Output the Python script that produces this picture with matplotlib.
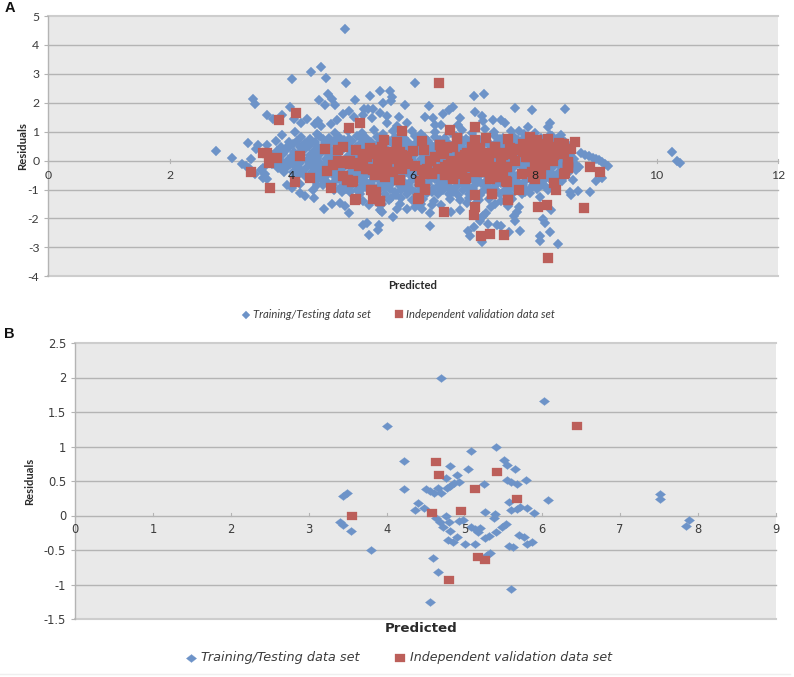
import matplotlib
matplotlib.use("Agg")
import matplotlib.pyplot as plt
from matplotlib.lines import Line2D

W, H = 794, 677
BLUE = "#6D93C8"
RED = "#BC5F5A"
BG = "#E9E9E9"
GRID = "#B4B4B4"
EDGE = "#CDCDCD"
TXT = "#3C3C3C"

# Panel A : training/testing, sparse points around the cloud
train_a_outer = [
(4.88,4.56),(4.49,3.25),(4.32,3.07),(4.56,2.85),(4.01,2.82),(4.90,2.67),(4.60,2.29),(4.45,2.09),(4.66,2.13),(4.55,1.93),
(4.71,1.91),(5.04,2.11),(5.28,2.24),(5.46,2.39),(5.61,2.41),(5.65,2.21),(5.63,2.06),(5.50,2.00),(3.37,2.13),(3.39,1.97),
(3.97,1.86),(3.59,1.56),(3.69,1.43),(3.84,1.56),(4.04,1.43),(4.15,1.31),(4.25,1.43),(4.44,1.38),(4.38,1.26),(4.49,1.20),
(4.65,1.28),(4.75,1.40),(4.85,1.61),(4.95,1.71),(5.03,1.52),(5.19,1.80),(5.26,1.80),(5.33,1.79),(5.18,1.57),(5.32,1.49),
(5.45,1.65),(5.56,1.54),(5.56,1.31),(5.76,1.52),(5.74,1.20),(3.28,0.61),(2.76,0.33),(3.02,0.09),(3.33,0.07),(3.45,0.54),
(3.41,0.40),(3.59,0.54),(3.74,0.67),(3.84,0.89),(3.19,-0.11),(3.25,-0.17),(3.30,-0.26),(3.39,-0.46),(3.53,-0.26),(3.50,-0.34),
(3.57,-0.46),(3.53,-0.61),(3.59,-0.64),(3.92,-0.86),(4.00,-0.95),(4.13,-0.82),(4.13,-1.13),(4.22,-1.22),(4.35,-1.03),(4.36,-1.30),
(4.54,-1.68),(4.41,-0.84),(4.67,-1.49),(4.79,-1.47),(4.87,-1.56),(4.95,-1.82),(5.18,-2.23),(5.24,-2.16),(5.27,-2.56),(5.42,-2.41),
(5.44,-2.23),(5.45,-1.72),(5.48,-1.76),(5.66,-1.95),(5.73,-1.67),(5.17,-1.41),(5.27,-1.53),(5.42,-1.47),(5.49,-1.49),(5.64,-1.30),
(4.83,-1.10),(4.96,-1.10),(6.02,2.67),(5.86,1.92),(6.25,1.90),(6.66,1.87),(6.59,1.75),(6.49,1.61),(6.20,1.52),(6.33,1.46),
(6.36,1.23),(6.45,1.23),(5.89,1.31),(6.99,2.24),(7.16,2.32),(7.01,1.69),(7.13,1.55),(7.14,1.38),(6.77,1.47),(6.74,1.23),
(7.31,1.39),(7.44,1.40),(7.51,1.31),(7.68,1.83),(7.95,1.75),(8.50,1.79),(8.25,1.29),(8.22,1.17),(7.88,1.15),(7.74,1.03),
(7.18,1.11),(8.43,0.89),(10.25,0.29),(10.34,-0.03),(10.38,-0.09),(8.76,0.26),(8.83,0.21),(8.89,0.15),(8.95,0.10),(9.00,0.06),
(9.05,0.01),(9.10,-0.05),(9.15,-0.10),(9.20,-0.17),(8.72,-0.21),(8.68,-0.34),(8.62,-0.67),(9.00,-0.69),(9.10,-0.61),(8.71,-1.05),
(8.60,-1.18),(8.57,-1.09),(8.91,-1.09),(8.08,-1.26),(8.27,-1.70),(8.14,-2.02),(8.17,-2.16),(8.25,-2.47),(8.09,-2.59),(8.09,-2.79),
(8.38,-2.89),(7.75,-2.43),(7.57,-2.48),(7.38,-2.23),(7.44,-2.25),(7.68,-2.10),(7.66,-1.93),(7.70,-1.78),(7.73,-1.59),(7.22,-2.20),
(7.13,-2.83),(6.90,-2.45),(6.93,-2.60),(6.99,-2.31),(7.10,-2.10),(7.15,-1.93),(7.19,-1.82),(7.12,-1.99),(6.27,-2.25),(6.27,-1.82),
(6.62,-1.76),(6.76,-1.70),(7.28,-1.59),(7.56,-1.56),(6.14,-1.68),(5.89,-1.68),(6.03,-1.61),(6.30,-1.53),
]

# Panel A : training/testing, the dense central cloud (estimated where points overlap)
train_a_core = [
(4.05,0.99),(4.42,0.93),(4.72,0.97),(4.92,1.02),(5.15,0.94),(5.35,1.05),(5.50,0.92),(5.66,1.01),(5.82,0.95),(5.98,1.04),(6.12,0.93),(6.35,1.00),(6.62,0.96),(6.80,1.06),(6.97,0.94),(7.33,0.98),(7.60,1.01),(7.82,0.93),(8.00,0.97),(8.25,0.90),
(4.15,0.82),(4.30,0.76),(4.45,0.84),(4.62,0.78),(4.78,0.82),(4.95,0.75),(5.08,0.85),(5.22,0.79),(5.40,0.83),(5.55,0.76),(5.70,0.81),(5.85,0.78),(6.02,0.84),(6.20,0.77),(6.36,0.82),(6.52,0.79),(6.70,0.85),(6.86,0.76),(7.00,0.82),(7.18,0.78),(7.35,0.84),(7.48,0.77),(7.65,0.83),(7.80,0.76),(7.95,0.82),(8.10,0.79),(8.28,0.85),(8.42,0.74),
(3.95,0.63),(4.08,0.68),(4.22,0.62),(4.38,0.66),(4.55,0.61),(4.70,0.67),(4.83,0.63),(5.00,0.68),(5.14,0.61),(5.30,0.66),(5.46,0.64),(5.60,0.69),(5.76,0.62),(5.92,0.66),(6.06,0.63),(6.24,0.68),(6.40,0.61),(6.56,0.66),(6.72,0.63),(6.90,0.68),(7.06,0.62),(7.22,0.66),(7.38,0.64),(7.52,0.68),(7.68,0.61),(7.84,0.66),(8.00,0.63),(8.16,0.67),(8.32,0.62),(8.50,0.66),
(3.82,0.48),(3.98,0.52),(4.13,0.46),(4.28,0.51),(4.44,0.47),(4.60,0.53),(4.74,0.48),(4.90,0.51),(5.05,0.46),(5.20,0.52),(5.36,0.49),(5.52,0.47),(5.68,0.53),(5.84,0.48),(6.00,0.51),(6.16,0.46),(6.30,0.52),(6.46,0.48),(6.62,0.51),(6.78,0.47),(6.94,0.52),(7.10,0.48),(7.26,0.51),(7.42,0.46),(7.58,0.53),(7.74,0.48),(7.90,0.51),(8.06,0.47),(8.22,0.52),(8.38,0.48),(8.54,0.50),
(3.76,0.34),(3.90,0.37),(4.04,0.31),(4.20,0.36),(4.36,0.33),(4.52,0.38),(4.66,0.32),(4.82,0.36),(4.98,0.34),(5.14,0.38),(5.28,0.31),(5.44,0.36),(5.60,0.33),(5.76,0.37),(5.92,0.32),(6.08,0.36),(6.24,0.34),(6.38,0.38),(6.54,0.32),(6.70,0.36),(6.86,0.33),(7.02,0.37),(7.18,0.31),(7.34,0.36),(7.50,0.34),(7.66,0.38),(7.82,0.33),(7.98,0.36),(8.14,0.32),(8.30,0.37),(8.46,0.34),(8.58,0.33),
(3.70,0.18),(3.86,0.22),(4.00,0.17),(4.16,0.21),(4.30,0.18),(4.46,0.23),(4.62,0.19),(4.76,0.22),(4.92,0.17),(5.08,0.21),(5.24,0.18),(5.38,0.23),(5.54,0.19),(5.70,0.21),(5.86,0.17),(6.02,0.22),(6.18,0.19),(6.34,0.23),(6.48,0.18),(6.64,0.21),(6.80,0.17),(6.96,0.22),(7.12,0.19),(7.28,0.21),(7.44,0.18),(7.60,0.23),(7.76,0.17),(7.92,0.21),(8.08,0.18),(8.24,0.22),(8.40,0.19),(8.56,0.21),
(3.62,0.04),(3.80,0.07),(3.94,0.02),(4.10,0.06),(4.26,0.03),(4.42,0.08),(4.56,0.04),(4.72,0.07),(4.88,0.02),(5.04,0.06),(5.18,0.04),(5.34,0.08),(5.50,0.03),(5.66,0.06),(5.82,0.02),(5.96,0.07),(6.12,0.04),(6.28,0.08),(6.44,0.03),(6.60,0.06),(6.74,0.02),(6.90,0.07),(7.06,0.04),(7.22,0.06),(7.38,0.03),(7.54,0.08),(7.70,0.02),(7.86,0.06),(8.02,0.04),(8.18,0.07),(8.34,0.03),(8.50,0.06),(8.64,0.04),
(3.68,-0.11),(3.84,-0.08),(3.98,-0.13),(4.14,-0.09),(4.30,-0.12),(4.46,-0.07),(4.60,-0.11),(4.76,-0.08),(4.92,-0.13),(5.08,-0.09),(5.24,-0.11),(5.38,-0.07),(5.54,-0.12),(5.70,-0.09),(5.86,-0.13),(6.02,-0.08),(6.16,-0.11),(6.32,-0.07),(6.48,-0.12),(6.64,-0.09),(6.80,-0.13),(6.96,-0.08),(7.12,-0.11),(7.26,-0.09),(7.42,-0.12),(7.58,-0.07),(7.74,-0.13),(7.90,-0.09),(8.06,-0.11),(8.22,-0.08),(8.38,-0.12),(8.54,-0.09),(8.66,-0.10),
(3.78,-0.26),(3.92,-0.23),(4.08,-0.28),(4.24,-0.24),(4.38,-0.27),(4.54,-0.22),(4.70,-0.26),(4.86,-0.23),(5.02,-0.28),(5.16,-0.24),(5.32,-0.26),(5.48,-0.22),(5.64,-0.27),(5.80,-0.24),(5.94,-0.28),(6.10,-0.23),(6.26,-0.26),(6.42,-0.22),(6.58,-0.27),(6.74,-0.24),(6.88,-0.28),(7.04,-0.23),(7.20,-0.26),(7.36,-0.24),(7.52,-0.27),(7.66,-0.22),(7.82,-0.28),(7.98,-0.24),(8.14,-0.26),(8.30,-0.23),(8.46,-0.27),(8.60,-0.24),
(3.88,-0.41),(4.02,-0.38),(4.18,-0.43),(4.34,-0.39),(4.50,-0.42),(4.66,-0.37),(4.80,-0.41),(4.96,-0.38),(5.12,-0.43),(5.28,-0.39),(5.44,-0.41),(5.58,-0.37),(5.74,-0.42),(5.90,-0.39),(6.06,-0.43),(6.22,-0.38),(6.36,-0.41),(6.52,-0.37),(6.68,-0.42),(6.84,-0.39),(7.00,-0.43),(7.14,-0.38),(7.30,-0.41),(7.46,-0.39),(7.62,-0.42),(7.78,-0.37),(7.94,-0.43),(8.08,-0.39),(8.24,-0.41),(8.40,-0.38),(8.54,-0.42),
(4.04,-0.56),(4.22,-0.53),(4.40,-0.58),(4.56,-0.54),(4.72,-0.57),(4.88,-0.52),(5.04,-0.56),(5.20,-0.53),(5.34,-0.58),(5.50,-0.54),(5.66,-0.56),(5.82,-0.52),(5.98,-0.57),(6.14,-0.54),(6.28,-0.58),(6.44,-0.53),(6.60,-0.56),(6.76,-0.52),(6.92,-0.57),(7.08,-0.54),(7.22,-0.58),(7.38,-0.53),(7.54,-0.56),(7.70,-0.54),(7.86,-0.57),(8.02,-0.52),(8.16,-0.58),(8.32,-0.54),(8.48,-0.56),
(4.38,-0.71),(4.54,-0.68),(4.70,-0.73),(4.86,-0.69),(5.02,-0.72),(5.16,-0.67),(5.32,-0.71),(5.48,-0.68),(5.64,-0.73),(5.80,-0.69),(5.96,-0.71),(6.10,-0.67),(6.26,-0.72),(6.42,-0.69),(6.58,-0.73),(6.74,-0.68),(6.90,-0.71),(7.04,-0.67),(7.20,-0.72),(7.36,-0.69),(7.52,-0.73),(7.68,-0.68),(7.84,-0.71),(8.00,-0.69),(8.14,-0.72),(8.30,-0.67),(8.44,-0.71),
(4.52,-0.86),(4.68,-0.83),(4.84,-0.88),(5.00,-0.84),(5.14,-0.87),(5.30,-0.82),(5.46,-0.86),(5.62,-0.83),(5.78,-0.88),(5.92,-0.84),(6.08,-0.86),(6.24,-0.82),(6.40,-0.87),(6.56,-0.84),(6.72,-0.88),(6.86,-0.83),(7.02,-0.86),(7.18,-0.84),(7.34,-0.87),(7.50,-0.82),(7.64,-0.88),(7.80,-0.84),(7.96,-0.86),(8.12,-0.83),(8.28,-0.87),
(4.70,-1.01),(4.90,-0.98),(5.08,-1.03),(5.26,-0.99),(5.44,-1.02),(5.62,-0.97),(5.80,-1.01),(5.96,-0.98),(6.14,-1.03),(6.32,-0.99),(6.48,-1.02),(6.66,-0.98),(6.82,-1.01),(6.98,-0.97),(7.16,-1.03),(7.34,-0.99),(7.50,-1.02),(7.68,-0.98),(7.86,-1.01),(8.04,-0.98),(8.22,-1.02),
(5.12,-1.17),(5.54,-1.14),(5.72,-1.19),(5.90,-1.14),(6.06,-1.18),(6.22,-1.13),(6.40,-1.17),(6.58,-1.14),(6.74,-1.19),(6.92,-1.14),(7.10,-1.18),(7.42,-1.14),(7.60,-1.19),(7.78,-1.16),(7.92,-1.13),
(5.60,-1.35),(5.80,-1.31),(5.98,-1.37),(6.16,-1.33),(6.34,-1.38),(6.60,-1.32),(6.76,-1.36),(6.92,-1.31),(7.08,-1.37),(7.24,-1.33),(7.44,-1.38),(7.62,-1.33),
(5.78,-1.50),(6.12,-1.49),(6.46,-1.52),(6.88,-1.48),(7.02,-1.50),(7.34,-1.49),
]

# Panel A : training/testing, further overlapping points that close the cloud
train_a_fill = [
(4.52,0.74),(4.86,0.72),(5.16,0.74),(5.48,0.71),(5.78,0.72),(6.10,0.74),(6.44,0.71),(6.78,0.73),(7.10,0.72),(7.42,0.74),(7.72,0.71),(8.04,0.72),(8.36,0.73),
(4.02,0.58),(4.30,0.56),(4.62,0.59),(4.92,0.57),(5.22,0.58),(5.52,0.56),(5.84,0.59),(6.14,0.57),(6.48,0.58),(6.80,0.56),(7.14,0.59),(7.46,0.57),(7.76,0.58),(8.08,0.56),(8.42,0.57),
(3.90,0.43),(4.20,0.41),(4.52,0.43),(4.82,0.42),(5.12,0.44),(5.44,0.41),(5.76,0.43),(6.08,0.42),(6.38,0.44),(6.70,0.41),(7.02,0.43),(7.34,0.42),(7.66,0.44),(7.98,0.41),(8.30,0.43),(8.52,0.41),
(3.82,0.27),(4.12,0.26),(4.44,0.28),(4.74,0.27),(5.00,0.26),(5.22,0.28),(5.52,0.26),(5.84,0.27),(6.16,0.28),(6.46,0.26),(6.78,0.27),(7.10,0.28),(7.42,0.26),(7.74,0.27),(8.06,0.28),(8.38,0.26),(8.60,0.28),
(3.78,0.12),(4.08,0.11),(4.38,0.13),(4.68,0.12),(5.00,0.11),(5.30,0.13),(5.62,0.12),(5.94,0.11),(6.26,0.13),(6.56,0.12),(6.88,0.11),(7.20,0.13),(7.52,0.12),(7.84,0.11),(8.16,0.13),(8.48,0.12),
(3.72,-0.03),(4.02,-0.04),(4.34,-0.02),(4.64,-0.03),(4.96,-0.04),(5.26,-0.02),(5.58,-0.03),(5.90,-0.04),(6.20,-0.02),(6.52,-0.03),(6.82,-0.04),(7.14,-0.02),(7.46,-0.03),(7.78,-0.04),(8.10,-0.02),(8.42,-0.03),
(3.76,-0.18),(4.06,-0.19),(4.38,-0.17),(4.68,-0.18),(5.00,-0.19),(5.30,-0.17),(5.62,-0.18),(5.94,-0.19),(6.24,-0.17),(6.56,-0.18),(6.86,-0.19),(7.18,-0.17),(7.50,-0.18),(7.82,-0.19),(8.14,-0.17),(8.46,-0.18),
(3.86,-0.33),(4.16,-0.34),(4.46,-0.32),(4.78,-0.33),(5.10,-0.34),(5.40,-0.32),(5.72,-0.33),(6.02,-0.34),(6.34,-0.32),(6.64,-0.33),(6.96,-0.34),(7.28,-0.32),(7.58,-0.33),(7.90,-0.34),(8.22,-0.32),(8.50,-0.33),
(4.12,-0.48),(4.42,-0.49),(4.72,-0.47),(5.04,-0.48),(5.36,-0.49),(5.66,-0.47),(5.98,-0.48),(6.30,-0.49),(6.60,-0.47),(6.92,-0.48),(7.22,-0.49),(7.54,-0.47),(7.86,-0.48),(8.16,-0.49),(8.44,-0.47),
(4.48,-0.63),(4.78,-0.64),(5.10,-0.62),(5.42,-0.63),(5.72,-0.64),(6.04,-0.62),(6.36,-0.63),(6.66,-0.64),(6.98,-0.62),(7.30,-0.63),(7.60,-0.64),(7.92,-0.62),(8.24,-0.63),(8.40,-0.62),
(4.60,-0.78),(4.94,-0.79),(5.24,-0.77),(5.56,-0.78),(5.86,-0.79),(6.18,-0.77),(6.50,-0.78),(6.80,-0.79),(7.12,-0.77),(7.44,-0.78),(7.74,-0.79),(8.06,-0.77),(8.36,-0.78),
(4.80,-0.93),(5.18,-0.94),(5.52,-0.92),(5.86,-0.93),(6.20,-0.94),(6.58,-0.92),(6.90,-0.93),(7.26,-0.94),(7.60,-0.92),(7.94,-0.93),(8.18,-0.92),
(5.36,-1.10),(5.70,-1.08),(6.02,-1.10),(6.30,-1.08),(6.66,-1.10),(7.00,-1.08),(7.26,-1.10),(7.52,-1.08),(7.84,-1.10),
]

# Panel A : independent validation
valid_a = [
(3.33,-0.41),(3.53,0.28),(3.59,0.25),(3.63,-0.09),(3.65,-0.95),(3.76,0.08),(3.79,1.39),(4.07,1.63),(4.05,-0.74),(4.14,0.16),
(4.31,-0.61),(4.55,0.41),(4.58,-0.36),(4.65,-0.95),(4.95,1.13),(5.12,1.29),(4.85,0.48),(4.77,0.37),(4.68,-0.15),(4.77,-0.03),
(4.85,-0.07),(4.96,-0.03),(5.01,-0.09),(4.85,-0.53),(4.93,-0.67),(5.01,-0.69),(5.05,-1.33),(5.17,0.22),(5.18,0.05),(5.32,0.25),
(5.23,-0.30),(5.33,-0.32),(5.40,-0.46),(5.45,-0.21),(5.56,-0.21),(5.42,-0.09),(5.52,0.71),(5.48,0.48),(5.42,0.37),(5.48,0.20),
(5.67,0.28),(5.73,0.66),(5.73,0.14),(5.76,-0.09),(5.76,-0.67),(5.30,-1.01),(5.39,-1.10),(5.34,-1.33),(5.45,-1.39),(6.43,2.67),
(5.82,1.03),(6.15,0.69),(6.00,0.34),(6.17,0.37),(5.81,0.20),(6.27,-0.03),(6.30,-0.44),(6.14,-0.32),(6.11,-0.72),(6.19,-0.99),
(6.07,-1.32),(6.50,-1.79),(6.44,0.54),(6.46,0.31),(6.55,0.43),(6.66,0.48),(6.60,1.06),(6.72,0.79),(7.01,1.15),(7.20,0.79),
(7.55,0.75),(7.01,0.71),(6.96,0.48),(7.09,0.43),(7.34,0.48),(7.59,0.43),(7.70,0.37),(7.42,0.25),(6.77,0.14),(6.90,0.14),
(7.04,0.08),(7.23,0.08),(6.57,-0.15),(6.68,-0.09),(6.82,-0.09),(6.96,-0.15),(7.09,-0.09),(7.22,-0.11),(7.37,-0.26),(7.53,-0.21),
(6.52,-0.49),(6.66,-0.55),(6.86,-0.61),(7.01,-0.38),(7.26,-0.55),(7.40,-0.55),(7.53,-0.69),(7.92,0.80),(8.03,0.71),(8.22,0.74),
(8.40,0.60),(8.46,0.57),(8.66,0.63),(8.60,0.39),(7.91,0.37),(8.05,0.43),(8.19,0.20),(8.31,0.20),(8.46,0.31),(7.86,0.14),
(8.14,0.02),(8.00,-0.09),(8.55,-0.07),(8.55,-0.21),(8.90,-0.21),(9.07,-0.40),(8.49,-0.44),(7.79,-0.47),(8.09,-0.41),(7.97,-0.55),
(7.74,-1.03),(8.31,-0.78),(8.34,-1.03),(7.30,-1.15),(7.01,-1.18),(7.56,-1.36),(7.01,-1.61),(6.99,-1.89),(8.05,-1.62),(8.19,-1.52),
(8.80,-1.63),(7.11,-2.59),(7.26,-2.55),(7.49,-2.57),(8.22,-3.38),(5.18,0.18),(5.24,0.12),(5.32,0.24),(5.43,0.35),(5.48,0.18),
(5.43,-0.10),(5.56,-0.22),(5.26,-0.28),(5.37,-0.51),(5.65,0.30),(5.78,0.30),(5.73,0.07),(5.81,-0.28),(5.92,-0.10),(5.78,-0.68),
(6.17,-0.45),(6.11,-0.74),(6.19,-1.00),(6.30,-0.45),(6.29,0.00),(6.22,-0.28),(5.32,-1.02),(5.37,-1.25),(5.46,-1.40),(5.04,-1.35),
(6.09,-1.31),(4.99,-0.74),(4.91,-0.68),(4.96,-0.10),(4.88,0.00),(6.52,-0.45),(6.66,-0.62),(6.77,0.13),(6.91,0.01),(7.07,0.13),
(6.52,-0.22),(6.63,-0.22),(6.80,-0.28),(6.85,-0.62),(6.96,-0.22),(7.24,0.07),(7.24,-0.22),(7.29,-0.56),(6.99,0.47),(6.85,0.18),
(6.72,0.76),(6.58,0.47),(6.44,0.53),(6.50,0.24),(7.07,-0.22),(7.34,0.47),(7.48,0.18),(7.70,0.41),(7.67,0.00),(7.37,-0.22),
(7.54,-0.22),(7.26,-0.62),(7.40,-0.56),(7.54,-0.73),(7.30,-1.16),(7.56,-1.37),(7.86,0.35),(8.00,0.64),(8.08,0.41),(7.89,0.13),
(8.06,0.07),(8.28,0.13),(8.47,0.24),(8.40,0.58),(8.47,0.58),(8.55,-0.05),(8.55,-0.24),(8.48,-0.45),(8.10,-0.45),(7.95,-0.39),
(8.00,-0.62),(6.62,0.00),(6.72,-0.38),(6.88,0.28),(6.80,-0.45),(7.13,0.27),(7.16,-0.38),(7.30,0.28),(7.44,0.02),(7.48,-0.40),
(7.62,0.22),(7.80,0.56),(7.96,0.55),(8.12,0.58),(8.24,0.46),(8.34,0.40),(7.80,0.30),(7.96,0.22),(8.16,-0.14),(8.30,-0.02),
(5.10,-0.20),(5.06,0.36),(5.28,0.42),(5.60,0.12),(5.66,-0.40),(5.90,0.16),(6.36,0.12),(6.02,-0.20),(6.40,-0.30),(5.54,-0.58),
]

# Panel B
train_b = [
(4.70,2.00),(6.02,1.66),(4.00,1.30),(5.41,1.00),(5.09,0.93),(4.22,0.79),(5.51,0.80),(5.55,0.73),(5.65,0.68),(4.82,0.72),
(5.04,0.67),(4.90,0.59),(4.76,0.55),(5.55,0.52),(5.60,0.49),(5.67,0.45),(5.79,0.51),(4.93,0.48),(4.86,0.47),(4.82,0.43),
(4.78,0.40),(5.25,0.45),(4.22,0.39),(4.51,0.38),(4.56,0.35),(4.61,0.32),(4.70,0.32),(4.66,0.40),(3.49,0.32),(3.44,0.28),
(6.07,0.23),(5.57,0.20),(4.40,0.18),(4.48,0.11),(4.37,0.08),(5.60,0.08),(5.67,0.10),(5.72,0.12),(5.81,0.11),(5.90,0.03),
(5.26,0.05),(5.39,0.02),(5.38,-0.03),(4.76,0.00),(4.63,-0.04),(4.68,-0.10),(4.73,-0.16),(4.80,-0.10),(4.93,-0.08),(4.98,-0.06),
(4.82,-0.22),(5.08,-0.16),(5.14,-0.20),(5.20,-0.18),(5.18,-0.24),(3.40,-0.10),(3.44,-0.14),(3.54,-0.23),(5.53,-0.12),(5.48,-0.17),
(5.41,-0.24),(5.31,-0.29),(5.27,-0.32),(5.70,-0.28),(5.77,-0.31),(5.87,-0.39),(5.81,-0.41),(4.90,-0.31),(4.85,-0.38),(4.79,-0.35),
(5.01,-0.42),(5.13,-0.41),(5.57,-0.44),(5.62,-0.45),(3.80,-0.50),(5.33,-0.54),(5.29,-0.57),(4.59,-0.61),(4.66,-0.82),(5.60,-1.07),
(4.56,-1.25),(7.51,0.31),(7.51,0.24),(7.89,-0.07),(7.85,-0.15),
]
valid_b = [
(6.45,1.30),(4.64,0.77),(4.67,0.58),(5.42,0.63),(5.14,0.39),(5.68,0.24),(4.58,0.03),(4.95,0.06),(3.55,0.00),(5.18,-0.60),
(5.27,-0.65),(4.80,-0.93),
]

xticks_a = [0, 2, 4, 6, 8, 10, 12]
yticks_a = [-4, -3, -2, -1, 0, 1, 2, 3, 4, 5]
xticks_b = [0, 1, 2, 3, 4, 5, 6, 7, 8, 9]
yticks_b = [-1.5, -1, -0.5, 0, 0.5, 1, 1.5, 2, 2.5]
ylabels_b = ["-1.5", "-1", "-0.5", "0", "0.5", "1", "1.5", "2", "2.5"]

DIAMOND_WIDE = [(-1, 0), (0, 0.78), (1, 0), (0, -0.78), (-1, 0)]
RECT_WIDE = [(-1, -0.72), (1, -0.72), (1, 0.72), (-1, 0.72), (-1, -0.72)]

fig = plt.figure(figsize=(W / 100, H / 100), dpi=100, facecolor="white")


def make_axes(box, xlim, ylim, xticks, yticks, ylabels, family, size):
    l, t, r, b = box
    ax = fig.add_axes([l / W, 1 - b / H, (r - l) / W, (b - t) / H])
    ax.set_facecolor(BG)
    ax.set_xlim(*xlim)
    ax.set_ylim(*ylim)
    ax.set_xticks(xticks)
    ax.set_yticks(yticks)
    ax.set_yticklabels(ylabels)
    for name in ("top", "right", "bottom"):
        ax.spines[name].set_visible(False)
    ax.spines["left"].set_color(GRID)
    ax.spines["left"].set_linewidth(1.0)
    for y in yticks:
        edge = y in ylim
        ax.axhline(y, color=EDGE if edge else GRID, lw=1.5 if edge else 1.0, zorder=1, clip_on=False)
    ax.tick_params(axis="x", length=0, labelbottom=False)
    ax.tick_params(axis="y", length=3, width=0.8, color=GRID, labelsize=size, labelcolor=TXT)
    for lab in ax.get_yticklabels():
        lab.set_family(family)
    return ax


# ---------- Panel A
ax_a = make_axes((48.3, 16, 778.3, 276.3), (0, 12), (-4, 5), xticks_a, yticks_a,
                 [str(v) for v in yticks_a], "Lato", 8.8)
for block in (train_a_outer, train_a_core, train_a_fill):
    ax_a.plot(*zip(*block), ls="none", marker="D", ms=4.7, mfc=BLUE, mec=BLUE, mew=0.2, zorder=2)
ax_a.plot(*zip(*valid_a), ls="none", marker="s", ms=6.5, mfc=RED, mec=RED, mew=0.2, zorder=2.1)
for v in xticks_a:
    ax_a.annotate(str(v), (v, 0), xytext=(0, -10.5), textcoords="offset points", ha="center", va="center",
                  fontsize=8.8, family="Lato", color="#222222" if 2 < v < 10 else TXT, zorder=5, annotation_clip=False)
    ax_a.plot([v, v], [-0.07, 0.07], color=GRID, lw=0.8, zorder=1.5, clip_on=False)
fig.text(23 / W, 1 - 146 / H, "Residuals", rotation=90, ha="center", va="center", fontsize=8.2,
         fontweight="bold", family="Lato", color="#2A2A2A")
fig.text(413 / W, 1 - 285.5 / H, "Predicted", ha="center", va="center", fontsize=8.2, fontweight="bold",
         family="Lato", color="#2A2A2A")
fig.add_artist(Line2D([245.5 / W], [1 - 314.5 / H], ls="none", marker="D", ms=4.0, mfc=BLUE, mec=BLUE, mew=0.2))
fig.text(253 / W, 1 - 315 / H, "Training/Testing data set", ha="left", va="center", fontsize=8.15, style="italic",
         family="Lato", color=TXT)
fig.add_artist(Line2D([399 / W], [1 - 314 / H], ls="none", marker="s", ms=5.2, mfc=RED, mec=RED, mew=0.2))
fig.text(406 / W, 1 - 315 / H, "Independent validation data set", ha="left", va="center", fontsize=8.15,
         style="italic", family="Lato", color=TXT)
fig.text(10 / W, 1 - 7.5 / H, "A", ha="center", va="center", fontsize=10.5, fontweight="bold",
         family="Liberation Sans", color="#111111")

# ---------- Panel B
ax_b = make_axes((75.3, 343, 775.7, 619), (0, 9), (-1.5, 2.5), xticks_b, yticks_b, ylabels_b, "DejaVu Sans", 8.3)
ax_b.plot(*zip(*train_b), ls="none", marker=DIAMOND_WIDE, ms=7.4, mfc=BLUE, mec=BLUE, mew=0.2, zorder=2)
ax_b.plot(*zip(*valid_b), ls="none", marker=RECT_WIDE, ms=7.8, mfc=RED, mec=RED, mew=0.2, zorder=2.1)
for v in xticks_b:
    ax_b.annotate(str(v), (v, 0), xytext=(0, -10), textcoords="offset points", ha="center", va="center",
                  fontsize=8.3, family="DejaVu Sans", color=TXT, zorder=5, annotation_clip=False)
    ax_b.plot([v, v], [0, 0.035], color=GRID, lw=0.8, zorder=1.5, clip_on=False)
fig.text(29.5 / W, 1 - 481 / H, "Residuals", rotation=90, ha="center", va="center", fontsize=8.0, fontweight="bold",
         family="Lato", color="#2A2A2A")
fig.text(421 / W, 1 - 628 / H, "Predicted", ha="center", va="center", fontsize=9.6, fontweight="bold",
         family="DejaVu Sans", color="#2A2A2A")
fig.add_artist(Line2D([191 / W], [1 - 657.5 / H], ls="none", marker=DIAMOND_WIDE, ms=7.4, mfc=BLUE, mec=BLUE, mew=0.2))
fig.text(201 / W, 1 - 658 / H, "Training/Testing data set", ha="left", va="center", fontsize=9.3, style="italic",
         family="DejaVu Sans", color=TXT)
fig.add_artist(Line2D([400 / W], [1 - 657.5 / H], ls="none", marker=RECT_WIDE, ms=7.8, mfc=RED, mec=RED, mew=0.2))
fig.text(410 / W, 1 - 658 / H, "Independent validation data set", ha="left", va="center", fontsize=9.1,
         style="italic", family="DejaVu Sans", color=TXT)
fig.text(9 / W, 1 - 334.5 / H, "B", ha="center", va="center", fontsize=10.5, fontweight="bold",
         family="Liberation Sans", color="#111111")
fig.add_artist(Line2D([0, 0.995], [1 - 674 / H, 1 - 674 / H], color="#EFEFEF", lw=1))

fig.savefig("out.png", dpi=100)
